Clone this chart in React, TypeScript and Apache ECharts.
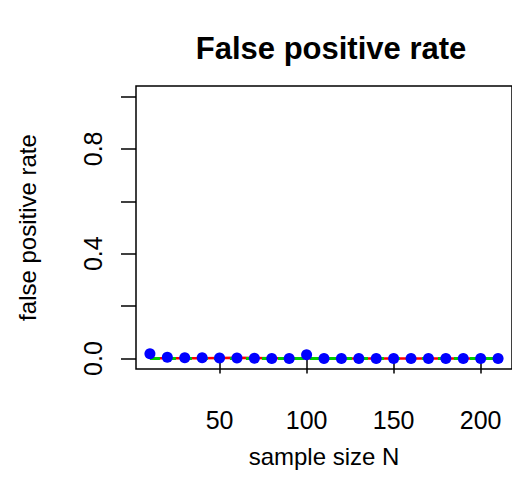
import React, { useEffect, useRef } from "react";
import * as echarts from "echarts";

const sampleSizes = [10, 20, 30, 40, 50, 60, 70, 80, 90, 100, 110, 120, 130, 140, 150, 160, 170, 180, 190, 200, 210];
const fprObserved = [0.018, 0.005, 0.003, 0.003, 0.002, 0.002, 0.001, 0.0, 0.0, 0.014, 0.0, 0.0, 0.0, 0.0, 0.0, 0.0, 0.0, 0.0, 0.0, 0.0, 0.0];
const fprRed = [0.001, 0.001, 0.001, 0.001, 0.002, 0.003, 0.002, 0.001, 0.001, 0.001, 0.0, 0.0, 0.0, 0.0, 0.0, 0.0, 0.0, 0.0, 0.0, 0.0, 0.0];
const fprGreen = [0, 0, 0, 0, 0, 0, 0, 0, 0, 0, 0, 0, 0, 0, 0, 0, 0, 0, 0, 0, 0];
const xTicks = [50, 100, 150, 200];
const yTicks = [0, 0.2, 0.4, 0.6, 0.8, 1.0];
const yLabels = [0, 0.4, 0.8];

const FONT = "Liberation Sans, Arial, Helvetica, sans-serif";

export default function App() {
  const ref = useRef<HTMLDivElement>(null);
  useEffect(() => {
    if (!ref.current) return;
    const chart = echarts.init(ref.current, null, { renderer: "svg" });
    const pts = (ys: number[]) => sampleSizes.map((x, i) => [x, ys[i]]);
    chart.setOption({
      animation: false,
      backgroundColor: "#ffffff",
      title: {
        text: "False positive rate",
        left: 326,
        textAlign: "center",
        top: 28,
        textStyle: { fontFamily: FONT, fontWeight: "bold", fontSize: 31, color: "#000" },
      },
      grid: {
        left: 136,
        top: 86,
        width: 380,
        height: 283,
        show: true,
        borderColor: "#000",
        borderWidth: 1.5,
        backgroundColor: "transparent",
      },
      xAxis: {
        type: "value",
        min: 2,
        max: 218,
        name: "sample size N",
        nameLocation: "middle",
        nameGap: 75,
        nameTextStyle: { fontFamily: FONT, fontSize: 24, color: "#000" },
        axisLine: { show: false },
        splitLine: { show: false },
        axisTick: {
          show: true,
          inside: false,
          length: 15,
          customValues: xTicks,
          lineStyle: { color: "#000", width: 1.5 },
        },
        axisLabel: {
          customValues: xTicks,
          margin: 38,
          fontFamily: FONT,
          fontSize: 25,
          color: "#000",
        },
      },
      yAxis: {
        type: "value",
        min: -0.04,
        max: 1.04,
        name: "false positive rate",
        nameLocation: "middle",
        nameGap: 97,
        nameTextStyle: { fontFamily: FONT, fontSize: 24, color: "#000" },
        axisLine: { show: false },
        splitLine: { show: false },
        axisTick: {
          show: true,
          inside: false,
          length: 15,
          customValues: yTicks,
          lineStyle: { color: "#000", width: 1.5 },
        },
        axisLabel: {
          customValues: yLabels,
          rotate: 90,
          margin: 31,
          fontFamily: FONT,
          fontSize: 25,
          color: "#000",
          formatter: (v: number) => v.toFixed(1),
        },
      },
      series: [
        {
          type: "line",
          data: pts(fprRed),
          showSymbol: false,
          symbol: "none",
          lineStyle: { color: "#ff0000", width: 2.5 },
          z: 2,
        },
        {
          type: "line",
          data: pts(fprGreen),
          showSymbol: false,
          symbol: "none",
          lineStyle: { color: "#00cd00", width: 3, type: [10, 6] },
          z: 3,
        },
        {
          type: "scatter",
          data: pts(fprObserved),
          symbol: "circle",
          symbolSize: 11,
          itemStyle: { color: "#0000ff", opacity: 1 },
          z: 4,
        },
      ],
    });
    return () => chart.dispose();
  }, []);
  return <div ref={ref} style={{ position: "absolute", left: 0, top: 0, width: 512, height: 500 }} />;
}
